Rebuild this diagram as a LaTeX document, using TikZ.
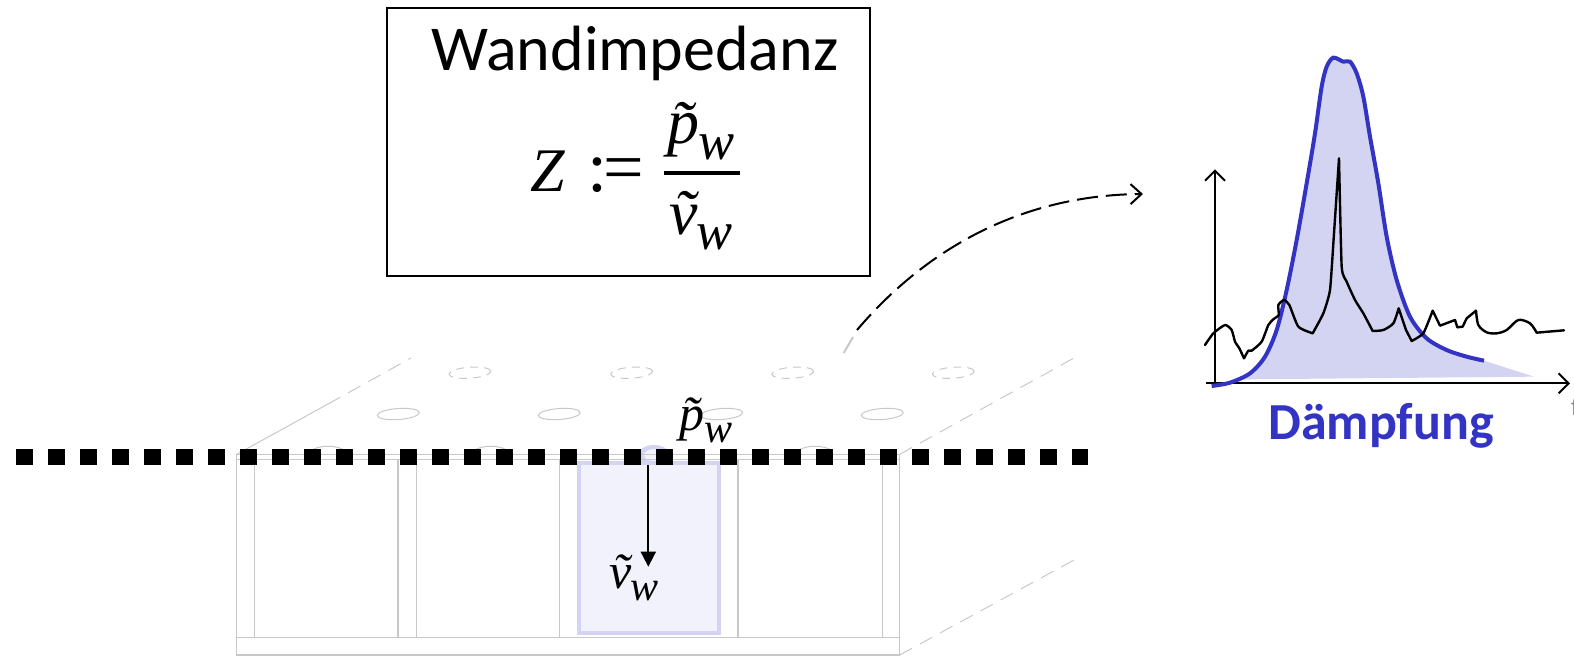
\documentclass[tikz,border=0pt]{standalone}
\usepackage{fontspec}
\setmainfont{Carlito}
\newfontfamily\mathlike{Liberation Serif}[ItalicFont=* Italic]
\usetikzlibrary{arrows.meta}
\definecolor{wallgray}{HTML}{C8C8C8}
\definecolor{cellstroke}{HTML}{D2D4F1}
\definecolor{cellfill}{HTML}{F1F2FC}
\definecolor{dampblue}{HTML}{3333C4}
\newcommand{\symw}[3]{{\mathlike\itshape\fontsize{#2}{#2}\selectfont
  #1^^^^0303\hspace{-.01em}\raisebox{-.24em}{\fontsize{#3}{#3}\selectfont w}}}
\tikzset{
  wall/.style={draw=wallgray,line width=1.4pt},
  wallthin/.style={draw=wallgray,line width=1pt},
  walldash/.style={draw=wallgray,line width=1pt,dash pattern=on 14pt off 9pt},
  holedash/.style={draw=wallgray,line width=1pt,dash pattern=on 8pt off 6pt},
  symlabel/.style={inner sep=0pt,anchor=center},
  axis/.style={line width=2pt,-{Straight Barb[length=10pt,width=20pt,line width=2pt]}},
}
\begin{document}
\begin{tikzpicture}[x=1pt,y=-1pt]
\useasboundingbox (0,0) rectangle (1574,656);
% perspective edges
\coordinate (fl) at (236.7,454.3);
\coordinate (fr) at (899.7,454.3);
\coordinate (br) at (899.7,655);
\coordinate (bl) at (236.7,655);
\coordinate (flmid) at (328,404);
\coordinate (blT) at (411,358);
\coordinate (brT) at (1074,358);
\coordinate (brB) at (1074,560);
\draw[wallthin] (fl) -- (flmid);
\draw[walldash] (flmid) -- (blT);
\draw[walldash] (fr) -- (brT);
\draw[walldash] (br) -- (brB);
% holes on top plate
\foreach \x in {398.3,559.3,721.7,882.3}
  \draw[wallthin,rotate around={4:(\x,414)}] (\x,414) ellipse (21pt and 5.5pt);
\foreach \x in {470,631.7,792.7,953.3}
  \draw[holedash,rotate around={4:(\x,372.7)}] (\x,372.7) ellipse (21pt and 5.5pt);
\foreach \x in {328,490.7,815}
  \draw[wallthin] (\x-16,450) .. controls (\x-8,445) and (\x+8,445) .. (\x+16,450);
% blue cell
\fill[cellstroke] (654,455.5) ellipse (16pt and 10.5pt);
\fill[cellfill] (654,455) ellipse (10pt and 6pt);
\draw[cellstroke,fill=cellfill,line width=4pt] (579.3,463.3) rectangle (719.3,632.5);
% front face
\draw[wall] (fl) -- (bl) -- (br) -- (fr);
\draw[wall] (fl) -- (fr);
\draw[wall] (236.7,459.3) -- (899.7,459.3);
\draw[wall] (236.7,637.7) -- (899.7,637.7);
\foreach \x in {254.7,398,416.3,559.3,738,882.7}
  \draw[wall] (\x,459.3) -- (\x,637.7);
% pressure plane
\coordinate (planeL) at (16.3,457);
\coordinate (planeR) at (1088.3,457);
\draw[line width=16pt,dash pattern=on 16.4pt off 15.6pt] (planeL) -- (planeR);
% velocity
\coordinate (vS) at (648.3,465);
\coordinate (vE) at (648.3,566.7);
\draw[line width=2pt,-{Stealth[length=15pt,width=15pt,inset=0pt]}] (vS) -- (vE);
\node[symlabel] (pw) at (706,420) {\symw{p}{50}{42}};
\node[symlabel] (vw) at (634,578) {\symw{v}{50}{42}};
% impedance box
\node[draw,line width=2pt,minimum width=483pt,minimum height=268pt,inner sep=0pt,outer sep=0pt] (box) at (628.3,142) {};
\node[inner sep=0pt,anchor=base] (title) at (635,70) {\fontsize{64}{64}\selectfont Wandimpedanz};
\node[inner sep=0pt,anchor=base] (zed) at (548,191) {{\mathlike\itshape\fontsize{62}{62}\selectfont Z}};
\node[inner sep=0pt,anchor=base] (def) at (616,191) {{\mathlike\fontsize{72}{72}\selectfont :\hspace{-.06em}=}};
\coordinate (barL) at (664,173);
\coordinate (barR) at (740,173);
\draw[line width=4pt] (barL) -- (barR);
\node[symlabel] (num) at (701,131) {\symw{p}{64}{54}};
\node[symlabel] (den) at (701,221) {\symw{v}{64}{54}};
% chart
\begin{scope}[shift={(1180,40)},x=.33333pt,y=-.33333pt]
\fill[cellstroke] plot[smooth,tension=.5] coordinates {(95,1038)(150,1028)(210,1000)(255,950)(290,870)(320,750)(350,600)(380,430)(405,280)(425,140)(440,80)(460,53)(490,65)(510,65)(530,100)(550,170)(570,290)(595,430)(620,590)(650,720)(690,830)(740,895)(800,930)(860,950)(912,962)} -- (1062,1010) -- (200,1018) -- cycle;
\coordinate (xS) at (78,1030);
\coordinate (xE) at (1170,1030);
\coordinate (yS) at (105,1030);
\coordinate (yE) at (105,388);
\draw[axis] (xS) -- (xE);
\draw[axis] (yS) -- (yE);
\draw[dampblue,line width=4pt] plot[smooth,tension=.5] coordinates {(95,1038)(150,1028)(210,1000)(255,950)(290,870)(320,750)(350,600)(380,430)(405,280)(425,140)(440,80)(460,53)(490,65)(510,65)(530,100)(550,170)(570,290)(595,430)(620,590)(650,720)(690,830)(740,895)(800,930)(860,950)(912,962)};
\draw[line width=2.4pt,line join=round,line cap=round]
  plot[smooth,tension=.35] coordinates {(75,915)(100,880)(135,855)(155,870)(165,905)(178,925)(192,955)}
  -- plot[smooth,tension=.35] coordinates {(192,955)(205,932)(215,932)(245,905)(265,855)(280,838)(296,825)(295,795)(312,780)(328,795)(355,860)(398,880)}
  -- plot[smooth,tension=.3] coordinates {(398,880)(430,820)(450,750)(462,580)(477,355)}
  -- plot[smooth,tension=.3] coordinates {(477,355)(485,680)(500,725)(525,780)(550,820)(578,873)}
  -- plot[smooth,tension=.4] coordinates {(578,873)(610,870)(640,850)(656,805)}
  -- (678,870) -- (695,903)
  -- plot[smooth,tension=.3] coordinates {(695,903)(730,880)(758,812)}
  -- (780,857) -- (825,840) -- (832,862) -- (848,860) -- (860,835) -- (888,812)
  -- plot[smooth,tension=.5] coordinates {(888,812)(895,855)(920,877)(950,880)(980,870)(1015,840)(1050,850)(1070,878)}
  -- (1152,871);
\end{scope}
\node[inner sep=0pt,anchor=base,text=dampblue] (daempf) at (1381,439) {\fontsize{52}{52}\selectfont\bfseries Dämpfung};
\node[inner sep=0pt,anchor=base west,text=gray] (ff) at (1571,415) {\fontsize{26}{26}\selectfont f};
% dashed link
\coordinate (linkS) at (843.7,353);
\coordinate (linkM) at (853,337);
\coordinate (linkA) at (857,330);
\coordinate (linkE) at (1143,194);
\draw[wallgray,line width=2pt] (linkS) -- (linkM);
\draw[line width=2pt,dash pattern=on 21pt off 8pt,-{Straight Barb[length=11pt,width=20pt,line width=2pt]}]
  (linkA) .. controls (925,250) and (1020,195) .. (linkE);
\end{tikzpicture}
\end{document}
